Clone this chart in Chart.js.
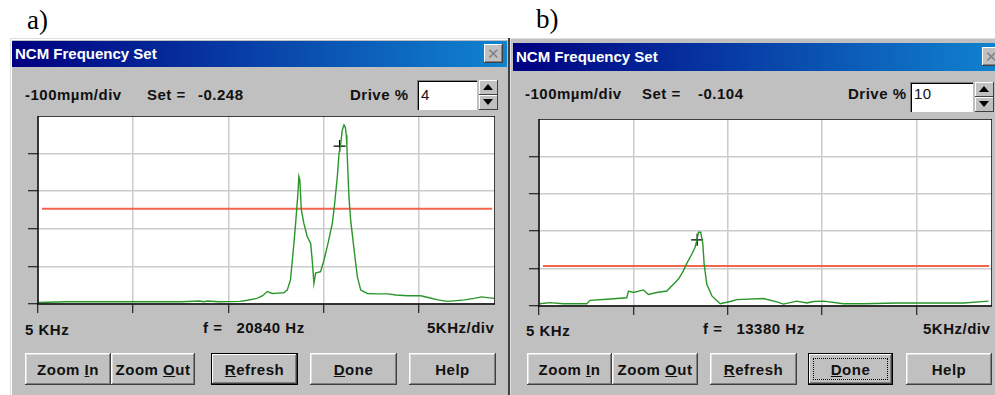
<!DOCTYPE html>
<html>
<head>
<meta charset="utf-8">
<script src="https://cdn.jsdelivr.net/npm/chart.js@4.4.1/dist/chart.umd.min.js"></script>
<style>
  body { margin: 0; width: 995px; height: 395px; overflow: hidden; background: #fff; position: relative;
         font-family: "Liberation Sans", Arial, sans-serif; }
  .tag { position: absolute; font-family: "Liberation Serif", "Times New Roman", serif; font-size: 27px; line-height: 30px; color: #000; }
  .win { position: absolute; background: #c0c0c0; height: 400px; }
  .title { position: absolute; background: linear-gradient(to right, #000080, #1084d0); color: #fff;
           font-weight: bold; font-size: 15px; line-height: 26px; padding-left: 3px; box-sizing: border-box; }
  .close { position: absolute; width: 19px; height: 19px; background: #c0c0c0;
           box-shadow: inset -1px -1px #404040, inset 1px 1px #fff, inset -2px -2px #808080;
           color: #808080; font-size: 15px; line-height: 19px; text-align: center; }
  .t { position: absolute; font-weight: bold; font-size: 15px; line-height: 20px; letter-spacing: 0.5px; color: #111; white-space: nowrap; }
  .box { position: absolute; background: #fff; box-shadow: inset 1px 1px #808080, inset 2px 2px #000, inset -1px -1px #fff; }
  .spin { position: absolute; width: 19px; background: #c0c0c0; }
  .spin div { height: 50%; box-sizing: border-box; box-shadow: inset -1px -1px #404040, inset 1px 1px #fff; position: relative; }
  .spin div::after { content: ''; position: absolute; left: 4px; top: 4px; border-left: 5px solid transparent; border-right: 5px solid transparent; }
  .spin .up::after { border-bottom: 6px solid #000; }
  .spin .dn::after { border-top: 6px solid #000; }
  .btn { position: absolute; top: 353px; height: 32px; background: #c0c0c0; font-weight: bold; font-size: 15px;
         letter-spacing: 0.5px; color: #111; display: flex; align-items: center; justify-content: center;
         box-shadow: inset -1px -1px #404040, inset 1px 1px #fff, inset -2px -2px #808080, inset 2px 2px #dfdfdf; }
  .btn.def { box-shadow: inset -1px -1px #000, inset 1px 1px #000, inset -2px -2px #404040, inset 2px 2px #fff, inset -3px -3px #808080; }
  .focus { position: absolute; left: 5px; top: 5px; right: 5px; bottom: 5px; border: 1px dotted #000; }
  canvas { position: absolute; }
</style>
</head>
<body>
<div class="tag" style="left:27px;top:5px">a)</div>
<div class="tag" style="left:536px;top:4px">b)</div>

<!-- window a -->
<div class="win" style="left:10px;top:38px;width:499px;box-shadow: inset 1px 1px #dfdfdf, inset 2px 2px #fff;"></div>
<div class="title" style="left:12px;top:41px;width:495px;height:26px">NCM Frequency Set</div>
<div class="close" style="left:484px;top:44px">&#x2715;</div>
<div class="t" style="left:25px;top:85px">-100mµm/div</div>
<div class="t" style="left:147px;top:85px">Set =</div>
<div class="t" style="left:198px;top:85px">-0.248</div>
<div class="t" style="left:350px;top:85px">Drive %</div>
<div class="box" style="left:417px;top:80px;width:60px;height:30px"></div>
<div class="t" style="left:421px;top:85px;font-weight:normal">4</div>
<div class="spin" style="left:479px;top:80px;height:30px"><div class="up"></div><div class="dn"></div></div>
<canvas id="chartA" width="467" height="197" style="left:28px;top:116px"></canvas>
<div class="t" style="left:25px;top:320px">5 KHz</div>
<div class="t" style="left:203px;top:318px">f =&nbsp;&nbsp; 20840 Hz</div>
<div class="t" style="left:427px;top:318px">5KHz/div</div>
<div class="btn" style="left:25px;width:86px">Zoom&nbsp;<u>I</u>n</div>
<div class="btn" style="left:111px;width:84px">Zoom&nbsp;<u>O</u>ut</div>
<div class="btn def" style="left:211px;width:87px"><u>R</u>efresh</div>
<div class="btn" style="left:310px;width:87px"><u>D</u>one</div>
<div class="btn" style="left:409px;width:87px">Help</div>

<!-- window b -->
<div class="win" style="left:508px;top:38px;width:500px;box-shadow: inset 2px 0 #404040, inset 3px 1px #dfdfdf;"></div>
<div class="title" style="left:513px;top:43px;width:490px;height:28px;line-height:28px">NCM Frequency Set</div>
<div class="close" style="left:982px;top:47px">&#x2715;</div>
<div class="t" style="left:525px;top:84px">-100mµm/div</div>
<div class="t" style="left:642px;top:84px">Set =</div>
<div class="t" style="left:698px;top:84px">-0.104</div>
<div class="t" style="left:848px;top:84px">Drive %</div>
<div class="box" style="left:910px;top:82px;width:63px;height:30px"></div>
<div class="t" style="left:914px;top:84px;font-weight:normal">10</div>
<div class="spin" style="left:975px;top:82px;height:30px"><div class="up"></div><div class="dn"></div></div>
<canvas id="chartB" width="463" height="196" style="left:529px;top:119px"></canvas>
<div class="t" style="left:526px;top:321px">5 KHz</div>
<div class="t" style="left:703px;top:319px">f =&nbsp;&nbsp; 13380 Hz</div>
<div class="t" style="left:923px;top:319px">5KHz/div</div>
<div class="btn" style="left:527px;width:85px">Zoom&nbsp;<u>I</u>n</div>
<div class="btn" style="left:612px;width:86px">Zoom&nbsp;<u>O</u>ut</div>
<div class="btn" style="left:710px;width:87px"><u>R</u>efresh</div>
<div class="btn def" style="left:808px;width:85px"><span class="focus"></span><u>D</u>one</div>
<div class="btn" style="left:906px;width:86px">Help</div>

<script>
// frequency in kHz, amplitude in divisions
const freqA = [5.0, 6.5, 8.0, 9.5, 11.0, 12.5, 13.5, 13.7, 13.9, 14.5, 15.6, 16.0, 16.5, 16.8, 17.04, 17.3, 17.6, 17.9,
  18.09, 18.26, 18.44, 18.53, 18.65, 18.70, 18.75, 18.83, 18.96, 19.14, 19.32, 19.40, 19.49, 19.58, 19.84, 20.02,
  20.23, 20.46, 20.58, 20.72, 20.81, 20.89, 20.98, 21.07, 21.14, 21.19, 21.22, 21.25, 21.33, 21.42, 21.6, 21.77,
  21.95, 22.3, 22.8, 23.35, 23.8, 24.4, 25.1, 25.6, 26.0, 26.5, 27.0, 27.4, 27.9, 28.3, 28.6, 28.95];
const ampA = [0.04, 0.06, 0.06, 0.06, 0.06, 0.06, 0.08, 0.06, 0.08, 0.06, 0.07, 0.10, 0.15, 0.22, 0.33, 0.28, 0.29, 0.30,
  0.37, 0.64, 1.61, 2.15, 2.94, 3.39, 3.30, 2.50, 2.15, 1.79, 1.61, 1.17, 0.55, 0.82, 0.86, 1.17,
  1.61, 2.15, 2.68, 3.39, 4.01, 4.23, 4.63, 4.76, 4.70, 4.49, 4.23, 3.83, 2.85, 2.23, 1.44, 0.73,
  0.37, 0.28, 0.27, 0.27, 0.24, 0.22, 0.22, 0.16, 0.11, 0.07, 0.09, 0.11, 0.15, 0.19, 0.17, 0.15];

const freqB = [5.05, 5.58, 6.29, 7.53, 7.70, 8.59, 9.65, 9.74, 10.0, 10.53, 10.8, 11.24, 11.77, 12.12, 12.39, 12.65,
  12.83, 13.1, 13.27, 13.36, 13.45, 13.57, 13.68, 13.75, 13.89, 14.16, 14.6, 15.13, 15.48, 16.89, 17.6, 17.95,
  18.66, 19.19, 19.55, 20.08, 21.14, 22.2, 23.96, 25.73, 27.5, 28.82];
const ampB = [0.06, 0.09, 0.06, 0.06, 0.15, 0.18, 0.22, 0.40, 0.36, 0.43, 0.31, 0.36, 0.40, 0.58, 0.72, 0.94,
  1.14, 1.39, 1.57, 1.75, 1.97, 1.97, 1.66, 1.12, 0.58, 0.27, 0.06, 0.12, 0.17, 0.20, 0.11, 0.05,
  0.13, 0.08, 0.12, 0.13, 0.06, 0.06, 0.08, 0.08, 0.08, 0.13];

const setLevelA = 2.53, setLevelB = 1.07;
const setSpan = [5.21, 28.85];
const markerA = { x: 20.84, y: 4.2 };
const markerB = { x: 13.38, y: 1.77 };

const xTicks = [5, 10, 15, 20, 25];
const yTicks = [0, 1, 2, 3, 4];

const plotFrame = {
  id: 'plotFrame',
  beforeDraw(chart) {
    const a = chart.chartArea, ctx = chart.ctx;
    ctx.save();
    ctx.fillStyle = '#fff';
    ctx.fillRect(a.left, a.top, a.right - a.left, a.bottom - a.top);
    ctx.restore();
  },
  afterDraw(chart) {
    const a = chart.chartArea, ctx = chart.ctx;
    ctx.save();
    ctx.strokeStyle = '#000';
    ctx.lineWidth = 1.5;
    ctx.strokeRect(a.left, a.top, a.right - a.left, a.bottom - a.top);
    ctx.restore();
  }
};

function makeChart(id, freq, amp, level, marker) {
  new Chart(document.getElementById(id), {
    type: 'line',
    data: {
      datasets: [
        {
          data: freq.map((f, i) => ({ x: f, y: amp[i] })),
          borderColor: '#2a962a', borderWidth: 1.4, pointRadius: 0, tension: 0
        },
        {
          data: setSpan.map(f => ({ x: f, y: level })),
          borderColor: '#f4644c', borderWidth: 2, pointRadius: 0
        },
        {
          type: 'scatter',
          data: [marker],
          pointStyle: 'cross', pointRadius: 6, borderColor: '#000', borderWidth: 1.3, backgroundColor: '#000'
        }
      ]
    },
    options: {
      animation: false, responsive: false, maintainAspectRatio: false,
      layout: { padding: 0, autoPadding: false },
      plugins: { legend: { display: false }, tooltip: { enabled: false } },
      scales: {
        x: {
          type: 'linear', min: 5, max: 29,
          afterBuildTicks: s => { s.ticks = xTicks.map(v => ({ value: v })); },
          afterFit: s => { s.height = 9; },
          ticks: { display: false },
          border: { display: false },
          grid: { color: '#cccccc', lineWidth: 1.5, tickColor: '#000', tickLength: 9, tickWidth: 1 }
        },
        y: {
          type: 'linear', min: 0, max: 5,
          afterBuildTicks: s => { s.ticks = yTicks.map(v => ({ value: v })); },
          afterFit: s => { s.width = 10; },
          ticks: { display: false },
          border: { display: false },
          grid: { color: '#cccccc', lineWidth: 1.5, tickColor: '#000', tickLength: 10, tickWidth: 1 }
        }
      }
    },
    plugins: [plotFrame]
  });
}

makeChart('chartA', freqA, ampA, setLevelA, markerA);
makeChart('chartB', freqB, ampB, setLevelB, markerB);
</script>
</body>
</html>
